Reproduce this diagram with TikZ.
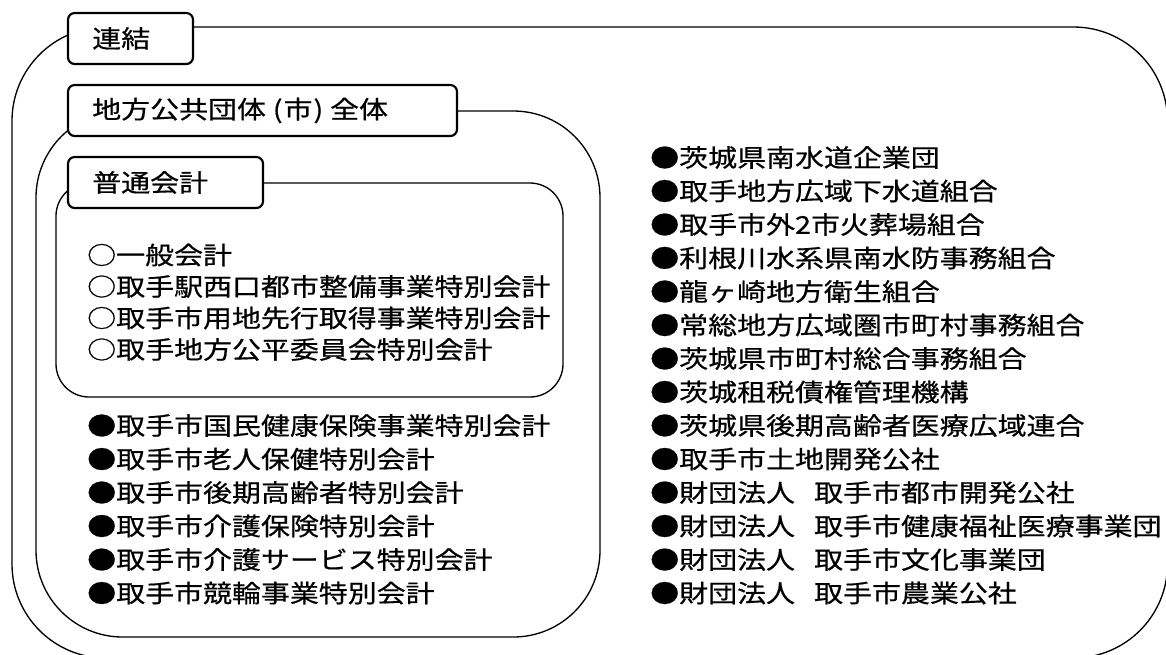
\documentclass[tikz,border=0pt]{standalone}
\usepackage{fontspec}
\setmainfont{Noto Sans CJK JP}[FakeStretch=1.18,FakeBold=0.6]
\newcommand{\zsp}{\hspace{0.78em}}
\newcommand{\lp}{\hspace{0.28em}(\hspace{0.04em}}
\newcommand{\rp}{\hspace{0.04em})\hspace{0.28em}}
\begin{document}
\begin{tikzpicture}[x=0.75pt,y=-0.75pt,
  box/.style={draw=black, line width=1pt, rounded corners=#1},
  lbl/.style={draw=black, fill=white, line width=1.6pt, rounded corners=5pt},
  txt/.style={anchor=west, inner sep=0pt, font=\fontsize{18.4pt}{22pt}\selectfont}]
\useasboundingbox (0,0) rectangle (1166,654);
\begin{scope}
  \clip (0,0) rectangle (1166,654);
  \draw[box=70.5pt] (12,27) rectangle (1167.5,658);
\end{scope}
\draw[box=65pt] (36,111) rectangle (600,637);
\draw[box=24.75pt] (56,183) rectangle (563,397);
% label boxes
\path[lbl] (68,13) rectangle (193,64);
\node[txt] (lren) at (92,38.5) {連結};
\path[lbl] (68,85) rectangle (457,136);
\node[txt] (lchi) at (92,110.5) {地方公共団体\lp 市\rp 全体};
\path[lbl] (68,157) rectangle (263,208);
\node[txt] (lfu) at (92,182.5) {普通会計};
% ordinary accounts
\foreach \t [count=\i] in {一般会計,取手駅西口都市整備事業特別会計,取手市用地先行取得事業特別会計,取手地方公平委員会特別会計}
  \node[txt] (o\i) at (87,{255+(\i-1)*31.5}) {○\t};
% other municipal accounts
\foreach \t [count=\i] in {取手市国民健康保険事業特別会計,取手市老人保健特別会計,取手市後期高齢者特別会計,取手市介護保険特別会計,取手市介護サービス特別会計,取手市競輪事業特別会計}
  \node[txt] (m\i) at (87,{425.5+(\i-1)*33.5}) {●\t};
% consolidated entities
\foreach \t [count=\i] in {茨城県南水道企業団,取手地方広域下水道組合,取手市外2市火葬場組合,利根川水系県南水防事務組合,龍ヶ崎地方衛生組合,常総地方広域圏市町村事務組合,茨城県市町村総合事務組合,茨城租税債権管理機構,茨城県後期高齢者医療広域連合,取手市土地開発公社,財団法人\zsp 取手市都市開発公社,財団法人\zsp 取手市健康福祉医療事業団,財団法人\zsp 取手市文化事業団,財団法人\zsp 取手市農業公社}
  \node[txt] (c\i) at (650,{157.5+(\i-1)*33.5}) {●\t};
\end{tikzpicture}
\end{document}
